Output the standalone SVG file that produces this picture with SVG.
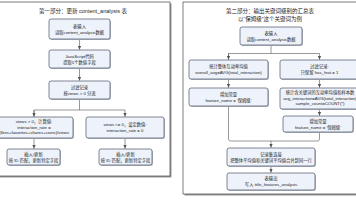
<svg xmlns="http://www.w3.org/2000/svg" width="356" height="200" viewBox="0 0 356 200">
<defs>
<style>
.panel{fill:#ffffff;stroke:#444;stroke-width:0.7}
.pshadow{fill:#9a9a9a}
.box{fill:#eef3fb;stroke:#4a5566;stroke-width:0.7}
.bshadow{fill:#b8bec8}
.t{font-family:"Liberation Sans","Noto Sans CJK SC",sans-serif;font-size:4.3px;fill:#222;text-anchor:middle}
.title{font-family:"Liberation Sans","Noto Sans CJK SC",sans-serif;font-size:5.5px;fill:#222;text-anchor:middle}
.c{fill:none;stroke:#555;stroke-width:0.6}
</style>
<marker id="ah" viewBox="0 0 6 6" refX="5.5" refY="3" markerWidth="4" markerHeight="4" orient="auto" markerUnits="userSpaceOnUse">
<path d="M0,0.5 L6,3 L0,5.5 Z" fill="#555"/>
</marker>
</defs>

<g id="panel-left">
<rect class="pshadow" x="-3" y="3.5" width="174.5" height="174"/>
<rect class="panel" x="-4" y="2" width="174" height="174"/>
<text class="title" x="83" y="13">第一部分：更新 content_analysis 表</text>
</g>
<g id="panel-right">
<rect class="pshadow" x="184.5" y="3.5" width="180" height="192"/>
<rect class="panel" x="183" y="2" width="180" height="192"/>
<text class="title" x="270" y="13">第二部分：输出关键词级别的汇总表</text>
<text class="title" x="270" y="20.5">以“保姆级”这个关键词为例</text>
</g>

<g id="connectors">
<path class="c" d="M79.5,39 V49.5" marker-end="url(#ah)"/>
<path class="c" d="M79.5,68 V80.5" marker-end="url(#ah)"/>
<path class="c" d="M79.5,99 V110"/>
<path class="c" d="M34,116.5 V110 H125 V116.5" marker-end="url(#ah)"/>
<path class="c" d="M34,110 V116.5" marker-end="url(#ah)"/>
<path class="c" d="M34,138 V148.5" marker-end="url(#ah)"/>
<path class="c" d="M125,138 V148.5" marker-end="url(#ah)"/>

<path class="c" d="M271,45 V53.5"/>
<path class="c" d="M228.5,59.5 V53.5 H319.5 V59.5" marker-end="url(#ah)"/>
<path class="c" d="M228.5,53.5 V59.5" marker-end="url(#ah)"/>
<path class="c" d="M228.5,79 V87.5" marker-end="url(#ah)"/>
<path class="c" d="M319.5,79 V87.5" marker-end="url(#ah)"/>
<path class="c" d="M319.5,109 V115.5" marker-end="url(#ah)"/>
<path class="c" d="M228.5,106 V139 Q228.5,141 230.5,141 H317.5 Q319.5,141 319.5,139 V132"/>
<path class="c" d="M271,141 V147.5" marker-end="url(#ah)"/>
<path class="c" d="M271,166 V172.5" marker-end="url(#ah)"/>
</g>

<g id="n-l1">
<rect class="bshadow" x="50" y="20" width="61" height="20" rx="2"/>
<rect class="box" x="49" y="19" width="61" height="20" rx="2"/>
<text class="t" x="79.5" y="27.5">表输入</text>
<text class="t" x="79.5" y="33.8">读取content_analysis数据</text>
</g>
<g id="n-l2">
<rect class="bshadow" x="50" y="51" width="61" height="18" rx="2"/>
<rect class="box" x="49" y="50" width="61" height="18" rx="2"/>
<text class="t" x="79.5" y="57.5">JavaScript代码</text>
<text class="t" x="79.5" y="63.8">提取5个数值字段</text>
</g>
<g id="n-l3">
<rect class="bshadow" x="50" y="82" width="61" height="18" rx="2"/>
<rect class="box" x="49" y="81" width="61" height="18" rx="2"/>
<text class="t" x="79.5" y="88.5">过滤记录</text>
<text class="t" x="79.5" y="94.8">按views &gt; 0 分流</text>
</g>
<g id="n-l4a">
<rect class="bshadow" x="-4" y="118" width="78" height="21" rx="2"/>
<rect class="box" x="-5" y="117" width="78" height="21" rx="2"/>
<text class="t" x="34" y="123.3">views &gt; 0，计算值:</text>
<text class="t" x="34" y="128.8">interaction_rate =</text>
<text class="t" x="34" y="134.3">(likes+favorites+shares+coins)/views</text>
</g>
<g id="n-l4b">
<rect class="bshadow" x="87" y="118" width="78" height="21" rx="2"/>
<rect class="box" x="86" y="117" width="78" height="21" rx="2"/>
<text class="t" x="125" y="126">views &lt;= 0，设定数值:</text>
<text class="t" x="125" y="132">interaction_rate = 0</text>
</g>
<g id="n-l5a">
<rect class="bshadow" x="8" y="150" width="53" height="16" rx="2"/>
<rect class="box" x="7" y="149" width="53" height="16" rx="2"/>
<text class="t" x="33.5" y="155.5">插入/更新</text>
<text class="t" x="33.5" y="161.5">按 ID 匹配，更新特定字段</text>
</g>
<g id="n-l5b">
<rect class="bshadow" x="100" y="150" width="53" height="16" rx="2"/>
<rect class="box" x="99" y="149" width="53" height="16" rx="2"/>
<text class="t" x="125.5" y="155.5">插入/更新</text>
<text class="t" x="125.5" y="161.5">按 ID 匹配，更新特定字段</text>
</g>

<g id="n-r1">
<rect class="bshadow" x="241" y="28" width="62" height="18" rx="2"/>
<rect class="box" x="240" y="27" width="62" height="18" rx="2"/>
<text class="t" x="271" y="34.5">表输入</text>
<text class="t" x="271" y="40.8">读取content_analysis数据</text>
</g>
<g id="n-ra1">
<rect class="bshadow" x="190" y="61" width="79" height="19" rx="2"/>
<rect class="box" x="189" y="60" width="79" height="19" rx="2"/>
<text class="t" x="228.5" y="67.5">统计整体互动率均值</text>
<text class="t" x="228.5" y="73.8">overall_avg=AVG(total_interaction)</text>
</g>
<g id="n-rb1">
<rect class="bshadow" x="281" y="61" width="79" height="19" rx="2"/>
<rect class="box" x="280" y="60" width="79" height="19" rx="2"/>
<text class="t" x="319.5" y="67.5">过滤记录:</text>
<text class="t" x="319.5" y="73.8">只保留 has_feat = 1</text>
</g>
<g id="n-ra2">
<rect class="bshadow" x="190" y="89" width="79" height="18" rx="2"/>
<rect class="box" x="189" y="88" width="79" height="18" rx="2"/>
<text class="t" x="228.5" y="95.5">增加常量</text>
<text class="t" x="228.5" y="101.8">feature_name = '保姆级'</text>
</g>
<g id="n-rb2">
<rect class="bshadow" x="281" y="89" width="80" height="21" rx="2"/>
<rect class="box" x="280" y="88" width="80" height="21" rx="2"/>
<text class="t" x="320" y="94.3">统计含关键词的互动率均值和样本数</text>
<text class="t" x="320" y="99.8">avg_interaction=AVG(total_interaction)</text>
<text class="t" x="320" y="105.3">sample_count=COUNT(*)</text>
</g>
<g id="n-rb3">
<rect class="bshadow" x="284" y="117" width="70" height="16" rx="2"/>
<rect class="box" x="283" y="116" width="70" height="16" rx="2"/>
<text class="t" x="318" y="122.5">增加常量</text>
<text class="t" x="318" y="128.5">feature_name = '保姆级'</text>
</g>
<g id="n-rm">
<rect class="bshadow" x="228" y="149" width="88" height="18" rx="2"/>
<rect class="box" x="227" y="148" width="88" height="18" rx="2"/>
<text class="t" x="271" y="155.5">记录集连接</text>
<text class="t" x="271" y="161.8">把整体平均值和关键词平均值合并到同一行</text>
</g>
<g id="n-ro">
<rect class="bshadow" x="228" y="174" width="88" height="17" rx="2"/>
<rect class="box" x="227" y="173" width="88" height="17" rx="2"/>
<text class="t" x="271" y="180">表输出</text>
<text class="t" x="271" y="186.2">写入 title_features_analysis</text>
</g>
</svg>
